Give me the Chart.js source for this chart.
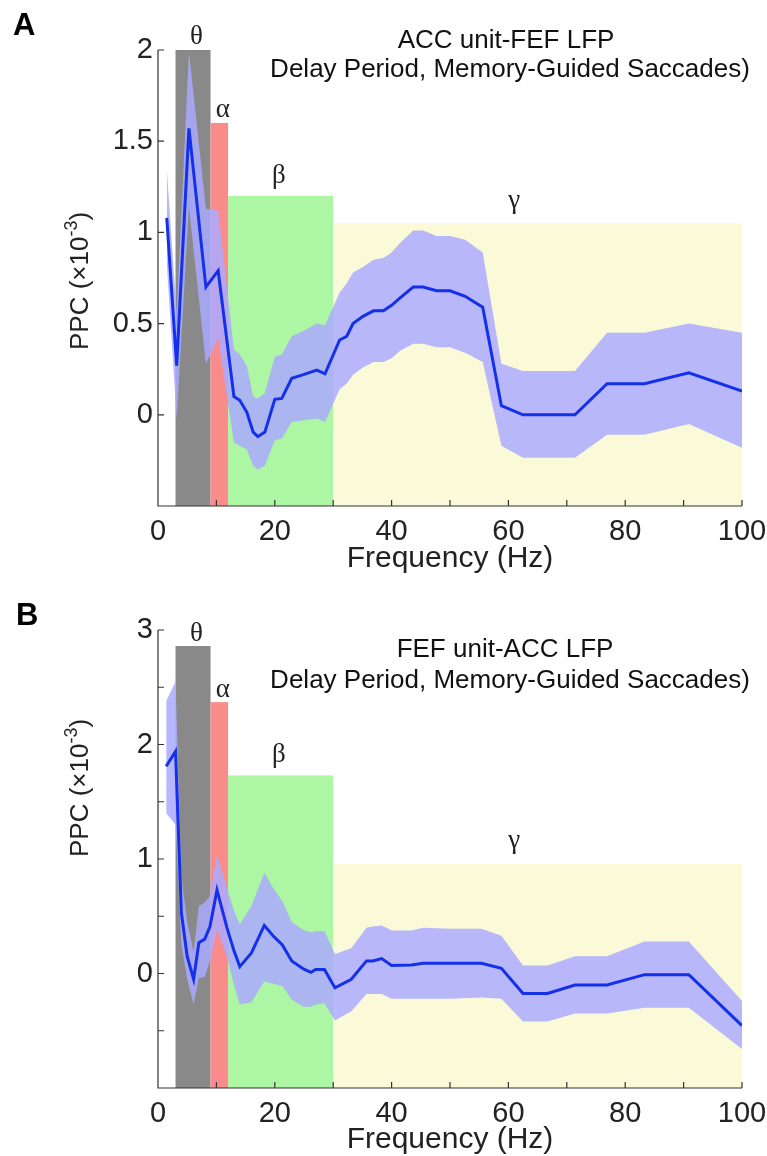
<!DOCTYPE html>
<html>
<head>
<meta charset="utf-8">
<script src="https://cdn.jsdelivr.net/npm/chart.js@4.4.1/dist/chart.umd.min.js"></script>
<style>
  body { margin: 0; background: #fff; }
  .panel { position: absolute; left: 0; width: 767px; }
</style>
</head>
<body>
<div class="panel" style="top:0"><canvas id="chartA" width="767" height="580"></canvas></div>
<div class="panel" style="top:580px"><canvas id="chartB" width="767" height="576"></canvas></div>
<script>
// Panel A: ACC unit - FEF LFP
const freqA = [1.5, 3.2, 5.3, 8.2, 10.3, 13.0, 14.0, 15.2, 16.3, 17.1, 18.3, 20.0, 21.2, 22.9, 24.9, 27.2, 28.6, 31.1, 32.3, 33.4,
  35.1, 36.9, 38.6, 40.0, 41.4, 43.7, 45.4, 47.7, 50.0, 52.6, 55.6, 58.8, 62.5, 66.7, 71.4, 76.9, 83.3, 90.9, 100];
const ppcA = [1.08, 0.27, 1.57, 0.70, 0.79, 0.10, 0.08, 0.015, -0.095, -0.12, -0.095, 0.085, 0.09, 0.20, 0.22, 0.245, 0.225, 0.41, 0.43, 0.50,
  0.54, 0.57, 0.57, 0.60, 0.64, 0.70, 0.70, 0.68, 0.68, 0.65, 0.59, 0.05, 0.0, 0.0, 0.0, 0.17, 0.17, 0.23, 0.13];
const upperA = [1.35, 0.55, 1.99, 1.13, 1.12, 0.36, 0.33, 0.27, 0.10, 0.09, 0.12, 0.32, 0.33, 0.43, 0.46, 0.50, 0.49, 0.67, 0.72, 0.78,
  0.81, 0.85, 0.86, 0.89, 0.94, 1.01, 1.01, 0.98, 0.98, 0.96, 0.89, 0.28, 0.24, 0.24, 0.24, 0.45, 0.45, 0.50, 0.45];
const lowerA = [0.83, -0.02, 1.14, 0.28, 0.42, -0.15, -0.17, -0.19, -0.28, -0.30, -0.28, -0.14, -0.13, -0.04, -0.03, -0.02, -0.04, 0.14, 0.17, 0.22,
  0.26, 0.29, 0.29, 0.31, 0.35, 0.39, 0.39, 0.37, 0.37, 0.34, 0.29, -0.17, -0.235, -0.235, -0.235, -0.11, -0.11, -0.05, -0.18];

// Panel B: FEF unit - ACC LFP
const freqB = [1.4, 3.0, 4.0, 5.0, 6.1, 7.0, 8.0, 8.9, 10.1, 11.8, 13.0, 14.0, 16.0, 18.2, 19.7, 21.3, 22.9, 24.9, 26.2, 27.0,
  28.5, 30.3, 33.1, 35.7, 36.8, 38.3, 40.0, 43.4, 45.4, 50.0, 55.4, 58.8, 62.5, 66.7, 71.4, 76.9, 83.3, 90.9, 100];
const ppcB = [1.81, 1.94, 0.53, 0.15, -0.05, 0.27, 0.30, 0.41, 0.73, 0.40, 0.20, 0.06, 0.18, 0.42, 0.33, 0.25, 0.11, 0.04, 0.01, 0.035,
  0.035, -0.125, -0.05, 0.11, 0.11, 0.13, 0.07, 0.075, 0.09, 0.09, 0.09, 0.045, -0.175, -0.175, -0.10, -0.10, -0.01, -0.01, -0.455];
const upperB = [2.38, 2.55, 0.85, 0.45, 0.19, 0.59, 0.62, 0.68, 1.04, 0.75, 0.55, 0.43, 0.59, 0.88, 0.75, 0.63, 0.45, 0.38, 0.36, 0.37,
  0.37, 0.17, 0.22, 0.40, 0.41, 0.42, 0.375, 0.375, 0.40, 0.39, 0.39, 0.33, 0.07, 0.07, 0.15, 0.15, 0.28, 0.28, -0.24];
const lowerB = [1.40, 1.30, 0.25, -0.05, -0.27, -0.04, -0.03, 0.11, 0.38, 0.15, -0.10, -0.27, -0.25, -0.07, -0.09, -0.11, -0.23, -0.29, -0.29, -0.27,
  -0.26, -0.41, -0.33, -0.18, -0.18, -0.18, -0.22, -0.22, -0.22, -0.22, -0.21, -0.22, -0.42, -0.42, -0.35, -0.35, -0.30, -0.30, -0.66];

// frequency bands
const bandNames = ["θ", "α", "β", "γ"];
const bandFrom = [3, 9, 12, 30];
const bandTo = [9, 12, 30, 100];
const bandTopA = [2.0, 1.6, 1.2, 1.05];
const bandTopB = [2.86, 2.37, 1.73, 0.96];
const bandLabelX = [6.6, 11.1, 20.7, 61];
const bandColors = ["#898989", "#fa8b8b", "#acf6a4", "#fafad8"];

// tick labels
const xTickLabels = ["0", "20", "40", "60", "80", "100"];
const yLabelsA = ["0", "0.5", "1", "1.5", "2"];
const yLabelsB = ["0", "1", "2", "3"];

const SANS = "'Liberation Sans', Arial, sans-serif";
const SERIF = "'Liberation Serif', 'Times New Roman', serif";

// bands behind the data, axes + text on top
const panelDecor = {
  id: "panelDecor",
  beforeDatasetsDraw(chart, args, opts) {
    const { ctx, chartArea, scales: { x, y } } = chart;
    ctx.save();
    bandFrom.forEach((f, i) => {
      const left = x.getPixelForValue(f);
      const right = x.getPixelForValue(bandTo[i]);
      const top = y.getPixelForValue(opts.tops[i]);
      ctx.fillStyle = bandColors[i];
      ctx.fillRect(left, top, right - left, chartArea.bottom - top);
    });
    ctx.restore();
  },
  afterDraw(chart, args, opts) {
    const { ctx, chartArea: ca, scales: { x, y } } = chart;
    ctx.save();

    // axes with inward ticks
    ctx.strokeStyle = "#333";
    ctx.lineWidth = 1.2;
    ctx.beginPath();
    ctx.moveTo(ca.left, ca.top);
    ctx.lineTo(ca.left, ca.bottom);
    ctx.lineTo(ca.right, ca.bottom);
    x.ticks.forEach((t) => {
      const px = x.getPixelForValue(t.value);
      ctx.moveTo(px, ca.bottom);
      ctx.lineTo(px, ca.bottom - 6);
    });
    y.ticks.forEach((t) => {
      const py = y.getPixelForValue(t.value);
      ctx.moveTo(ca.left, py);
      ctx.lineTo(ca.left + 6, py);
    });
    ctx.stroke();

    // band labels
    ctx.fillStyle = "#222";
    ctx.font = "27px " + SERIF;
    ctx.textAlign = "center";
    ctx.textBaseline = "alphabetic";
    bandNames.forEach((name, i) => {
      ctx.fillText(name, x.getPixelForValue(bandLabelX[i]), y.getPixelForValue(opts.tops[i]) - opts.labelGap[i]);
    });

    // panel letter
    ctx.fillStyle = "#000";
    ctx.textAlign = "left";
    ctx.font = "bold 31px " + SANS;
    ctx.fillText(opts.letter, opts.letterPos[0], opts.letterPos[1]);

    // title lines
    ctx.fillStyle = "#111";
    ctx.textAlign = "center";
    ctx.font = "26px " + SANS;
    opts.title.forEach((line, i) => ctx.fillText(line, opts.titleX[i], opts.titleY[i]));

    // x axis label
    ctx.font = "30px " + SANS;
    ctx.fillStyle = "#222";
    ctx.fillText("Frequency (Hz)", (ca.left + ca.right) / 2, opts.xLabelY);

    // y axis label with superscript
    ctx.translate(opts.yLabelPos[0], opts.yLabelPos[1]);
    ctx.rotate(-Math.PI / 2);
    ctx.textBaseline = "middle";
    ctx.textAlign = "left";
    const mainFont = "26px " + SANS, supFont = "18px " + SANS;
    ctx.font = mainFont;
    const w1 = ctx.measureText("PPC (×10").width;
    const w3 = ctx.measureText(")").width;
    ctx.font = supFont;
    const w2 = ctx.measureText("-3").width;
    let start = -(w1 + w2 + w3) / 2;
    ctx.font = mainFont;
    ctx.fillText("PPC (×10", start, 0);
    ctx.font = supFont;
    ctx.fillText("-3", start + w1, -9);
    ctx.font = mainFont;
    ctx.fillText(")", start + w1 + w2, 0);

    ctx.restore();
  }
};

function makePanel(canvasId, p) {
  const pts = (arr) => p.freq.map((f, i) => ({ x: f, y: arr[i] }));
  return new Chart(document.getElementById(canvasId), {
    type: "line",
    data: {
      datasets: [
        { data: pts(p.mean), borderColor: "#1430e8", borderWidth: 3, pointRadius: 0, fill: false, tension: 0 },
        { data: pts(p.upper), borderWidth: 0, pointRadius: 0, fill: "+1", backgroundColor: "rgba(170,170,255,0.85)", tension: 0 },
        { data: pts(p.lower), borderWidth: 0, pointRadius: 0, fill: false, tension: 0 }
      ]
    },
    options: {
      responsive: false,
      animation: false,
      events: [],
      layout: { padding: { top: 50, right: 25, left: 0, bottom: 0 } },
      plugins: {
        legend: { display: false },
        tooltip: { enabled: false },
        panelDecor: p.decor
      },
      scales: {
        x: {
          type: "linear", min: 0, max: 100,
          afterFit: (s) => { s.height = p.xHeight; s.paddingLeft = 0; s.paddingRight = 0; },
          grid: { display: false, drawTicks: false },
          border: { display: false },
          ticks: {
            stepSize: 10, autoSkip: false, maxRotation: 0, padding: 9,
            color: "#222", font: { family: SANS, size: 29 },
            callback: (v) => (xTickLabels.includes(String(v)) ? String(v) : "")
          }
        },
        y: {
          type: "linear", min: p.yMin, max: p.yMax,
          afterFit: (s) => { s.width = 158; s.paddingTop = 0; s.paddingBottom = 0; },
          grid: { display: false, drawTicks: false },
          border: { display: false },
          ticks: {
            stepSize: 0.5, autoSkip: false, padding: 5,
            color: "#222", font: { family: SANS, size: 29 },
            callback: (v) => (p.yLabels.includes(String(v)) ? String(v) : "")
          }
        }
      }
    },
    plugins: [panelDecor]
  });
}

makePanel("chartA", {
  freq: freqA, mean: ppcA, upper: upperA, lower: lowerA,
  yMin: -0.5, yMax: 2, yLabels: yLabelsA, xHeight: 74,
  decor: {
    tops: bandTopA, labelGap: [6, 6, 13, 15],
    letter: "A", letterPos: [13, 35],
    title: ["ACC unit-FEF LFP", "Delay Period, Memory-Guided Saccades)"],
    titleX: [506, 510], titleY: [48, 77],
    xLabelY: 567, yLabelPos: [81, 281]
  }
});

makePanel("chartB", {
  freq: freqB, mean: ppcB, upper: upperB, lower: lowerB,
  yMin: -1, yMax: 3, yLabels: yLabelsB, xHeight: 68,
  decor: {
    tops: bandTopB, labelGap: [5, 5, 13, 16],
    letter: "B", letterPos: [16, 45],
    title: ["FEF unit-ACC LFP", "Delay Period, Memory-Guided Saccades)"],
    titleX: [505, 510], titleY: [77, 108],
    xLabelY: 568, yLabelPos: [81, 208]
  }
});
</script>
</body>
</html>
